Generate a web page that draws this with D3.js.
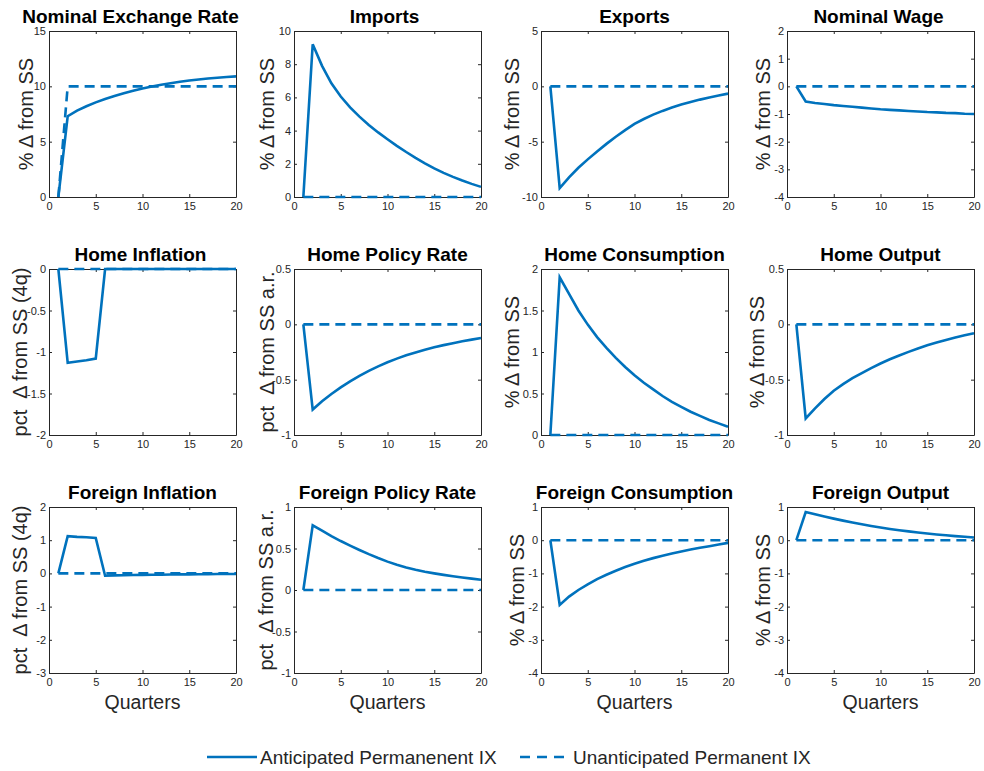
<!DOCTYPE html>
<html>
<head>
<meta charset="utf-8">
<script src="https://cdn.jsdelivr.net/npm/d3@7"></script>
<style>
  body { margin: 0; background: #fff; }
  svg { display: block; font-family: "Liberation Sans", Arial, Helvetica, sans-serif; }
</style>
</head>
<body>
<svg id="chart" width="984" height="771"></svg>
<script>
// ---------------- DATA ----------------
const quarters = [1,2,3,4,5,6,7,8,9,10,11,12,13,14,15,16,17,18,19,20];
const xTicks = [0, 5, 10, 15, 20];
const seriesNames = ["Anticipated Permanenent IX", "Unanticipated Permanent IX"];

const titles = [
  "Nominal Exchange Rate", "Imports", "Exports", "Nominal Wage",
  "Home Inflation", "Home Policy Rate", "Home Consumption", "Home Output",
  "Foreign Inflation", "Foreign Policy Rate", "Foreign Consumption", "Foreign Output"
];
const yLabels = [
  "% \u0394 from SS", "% \u0394 from SS", "% \u0394 from SS", "% \u0394 from SS",
  "pct  \u0394 from SS (4q)", "pct  \u0394 from SS a.r.", "% \u0394 from SS", "% \u0394 from SS",
  "pct  \u0394 from SS (4q)", "pct  \u0394 from SS a.r.", "% \u0394 from SS", "% \u0394 from SS"
];
const yLimits = [
  [0, 15], [0, 10], [-10, 5], [-4, 2],
  [-2, 0], [-1, 0.5], [0, 2], [-1, 0.5],
  [-3, 2], [-1, 1], [-4, 1], [-4, 1]
];
const yTickValues = [
  [0, 5, 10, 15], [0, 2, 4, 6, 8, 10], [-10, -5, 0, 5], [-4, -3, -2, -1, 0, 1, 2],
  [-2, -1.5, -1, -0.5, 0], [-1, -0.5, 0, 0.5], [0, 0.5, 1, 1.5, 2], [-1, -0.5, 0, 0.5],
  [-3, -2, -1, 0, 1, 2], [-1, -0.5, 0, 0.5, 1], [-4, -3, -2, -1, 0, 1], [-4, -3, -2, -1, 0, 1]
];

// Anticipated (solid)
const anticipated = [
  [0, 7.3, 7.8, 8.2, 8.55, 8.85, 9.12, 9.37, 9.6, 9.8, 9.98, 10.14, 10.28, 10.41, 10.52, 10.62, 10.71, 10.78, 10.85, 10.9],
  [0, 9.2, 7.9, 6.85, 6.05, 5.4, 4.84, 4.34, 3.89, 3.48, 3.08, 2.71, 2.36, 2.03, 1.72, 1.45, 1.21, 0.99, 0.79, 0.61],
  [0, -9.2, -8.22, -7.36, -6.6, -5.88, -5.2, -4.56, -3.96, -3.4, -2.95, -2.56, -2.22, -1.92, -1.65, -1.41, -1.2, -1.01, -0.83, -0.66],
  [0, -0.55, -0.6, -0.64, -0.68, -0.71, -0.74, -0.77, -0.8, -0.83, -0.85, -0.87, -0.89, -0.91, -0.93, -0.94, -0.96, -0.97, -0.99, -1.0],
  [0, -1.13, -1.115, -1.1, -1.08, 0, 0, 0, 0, 0, 0, 0, 0, 0, 0, 0, 0, 0, 0, 0],
  [0, -0.77, -0.695, -0.63, -0.57, -0.515, -0.465, -0.42, -0.38, -0.343, -0.31, -0.28, -0.254, -0.23, -0.208, -0.188, -0.17, -0.153, -0.138, -0.124],
  [0, 1.9, 1.7, 1.5, 1.33, 1.18, 1.05, 0.93, 0.82, 0.72, 0.63, 0.55, 0.47, 0.4, 0.34, 0.28, 0.23, 0.18, 0.14, 0.1],
  [0, -0.85, -0.76, -0.675, -0.6, -0.54, -0.487, -0.44, -0.395, -0.354, -0.316, -0.281, -0.249, -0.219, -0.19, -0.165, -0.142, -0.12, -0.099, -0.08],
  [0, 1.12, 1.1, 1.09, 1.07, -0.07, -0.06, -0.055, -0.05, -0.045, -0.04, -0.04, -0.035, -0.03, -0.03, -0.025, -0.025, -0.02, -0.02, -0.02],
  [0, 0.78, 0.715, 0.65, 0.59, 0.535, 0.482, 0.432, 0.385, 0.342, 0.304, 0.272, 0.244, 0.22, 0.2, 0.182, 0.166, 0.151, 0.137, 0.124],
  [0, -1.95, -1.7, -1.5, -1.33, -1.17, -1.04, -0.92, -0.81, -0.71, -0.62, -0.54, -0.47, -0.4, -0.34, -0.28, -0.23, -0.18, -0.13, -0.08],
  [0, 0.85, 0.78, 0.715, 0.65, 0.59, 0.533, 0.48, 0.43, 0.383, 0.34, 0.3, 0.265, 0.232, 0.202, 0.174, 0.148, 0.124, 0.102, 0.08]
];
// Unanticipated (dashed)
const unanticipated = [
  [0, 10, 10, 10, 10, 10, 10, 10, 10, 10, 10, 10, 10, 10, 10, 10, 10, 10, 10, 10],
  [0,0,0,0,0,0,0,0,0,0,0,0,0,0,0,0,0,0,0,0],
  [0,0,0,0,0,0,0,0,0,0,0,0,0,0,0,0,0,0,0,0],
  [0,0,0,0,0,0,0,0,0,0,0,0,0,0,0,0,0,0,0,0],
  [0,0,0,0,0,0,0,0,0,0,0,0,0,0,0,0,0,0,0,0],
  [0,0,0,0,0,0,0,0,0,0,0,0,0,0,0,0,0,0,0,0],
  [0,0,0,0,0,0,0,0,0,0,0,0,0,0,0,0,0,0,0,0],
  [0,0,0,0,0,0,0,0,0,0,0,0,0,0,0,0,0,0,0,0],
  [0,0,0,0,0,0,0,0,0,0,0,0,0,0,0,0,0,0,0,0],
  [0,0,0,0,0,0,0,0,0,0,0,0,0,0,0,0,0,0,0,0],
  [0,0,0,0,0,0,0,0,0,0,0,0,0,0,0,0,0,0,0,0],
  [0,0,0,0,0,0,0,0,0,0,0,0,0,0,0,0,0,0,0,0]
];

// ---------------- LAYOUT ----------------
const colLefts = [49, 294, 541, 787];
const rowTops = [31, 269, 507];
const plotW = 187, plotH = 166;
const yLabelOffsets = [23, 27, 29, 24, 29, 27, 29, 30, 29, 28, 24, 24];
const titleShifts = [-12, -3, 0, -2, -2, 0, 0, 0, 0, 0, 0, 0];
const lineColor = "#0072BD";
const axisColor = "#262626";

const svg = d3.select("#chart");

titles.forEach((title, i) => {
  const r = Math.floor(i / 4), c = i % 4;
  const left = colLefts[c], top = rowTops[r];
  const g = svg.append("g").attr("transform", `translate(${left},${top})`);

  const x = d3.scaleLinear().domain([0, 20]).range([0, plotW]);
  const y = d3.scaleLinear().domain(yLimits[i]).range([plotH, 0]);
  const fmt = d => String(d);

  const xb = g.append("g").attr("transform", `translate(0,${plotH})`)
    .call(d3.axisBottom(x).tickValues(xTicks).tickFormat(fmt).tickSizeInner(-3).tickSizeOuter(0).tickPadding(5));
  const xt = g.append("g")
    .call(d3.axisTop(x).tickValues(xTicks).tickFormat("").tickSizeInner(-3).tickSizeOuter(0));
  const yl = g.append("g")
    .call(d3.axisLeft(y).tickValues(yTickValues[i]).tickFormat(fmt).tickSizeInner(-3).tickSizeOuter(0).tickPadding(3));
  const yr = g.append("g").attr("transform", `translate(${plotW},0)`)
    .call(d3.axisRight(y).tickValues(yTickValues[i]).tickFormat("").tickSizeInner(-3).tickSizeOuter(0));
  [xb, xt, yl, yr].forEach(a => {
    a.selectAll("path").attr("stroke", axisColor).attr("stroke-width", 1);
    a.selectAll("line").attr("stroke", axisColor).attr("stroke-width", 1);
    a.selectAll("text").attr("fill", axisColor).style("font-size", "11px")
      .style("font-family", '"Liberation Sans", Arial, sans-serif');
  });

  const clipId = "clip" + i;
  g.append("clipPath").attr("id", clipId).append("rect")
    .attr("x", -2).attr("y", -2).attr("width", plotW + 4).attr("height", plotH + 4);

  const line = d3.line().x((d, k) => x(quarters[k])).y(d => y(d));
  g.append("path").datum(unanticipated[i])
    .attr("clip-path", `url(#${clipId})`)
    .attr("fill", "none").attr("stroke", lineColor).attr("stroke-width", 2.6)
    .attr("stroke-dasharray", "10,6").attr("d", line);
  g.append("path").datum(anticipated[i])
    .attr("clip-path", `url(#${clipId})`)
    .attr("fill", "none").attr("stroke", lineColor).attr("stroke-width", 2.6)
    .attr("stroke-linejoin", "miter").attr("d", line);

  g.append("text").attr("x", plotW / 2 + titleShifts[i]).attr("y", -8)
    .attr("text-anchor", "middle").attr("fill", "#000")
    .style("font-size", "19px").style("font-weight", "bold")
    .text(title);

  g.append("text")
    .attr("transform", `translate(${-yLabelOffsets[i]},${plotH / 2}) rotate(-90)`)
    .attr("dy", "0.35em")
    .attr("text-anchor", "middle").attr("fill", axisColor)
    .style("font-size", "20px")
    .style("white-space", "pre")
    .text(yLabels[i]);

  if (r === 2) {
    g.append("text").attr("x", plotW / 2).attr("y", plotH + 36)
      .attr("text-anchor", "middle").attr("fill", axisColor)
      .style("font-size", "19.5px").text("Quarters");
  }
});

// ---------------- LEGEND ----------------
const leg = svg.append("g").attr("transform", "translate(0,757)");
leg.append("line").attr("x1", 207).attr("x2", 257).attr("y1", 0).attr("y2", 0)
  .attr("stroke", lineColor).attr("stroke-width", 2.6);
leg.append("text").attr("x", 260).attr("y", 7).attr("fill", axisColor)
  .style("font-size", "19px").text(seriesNames[0]);
leg.append("line").attr("x1", 520).attr("x2", 570).attr("y1", 0).attr("y2", 0)
  .attr("stroke", lineColor).attr("stroke-width", 2.6).attr("stroke-dasharray", "10,7");
leg.append("text").attr("x", 573).attr("y", 7).attr("fill", axisColor)
  .style("font-size", "19px").text(seriesNames[1]);
</script>
</body>
</html>
